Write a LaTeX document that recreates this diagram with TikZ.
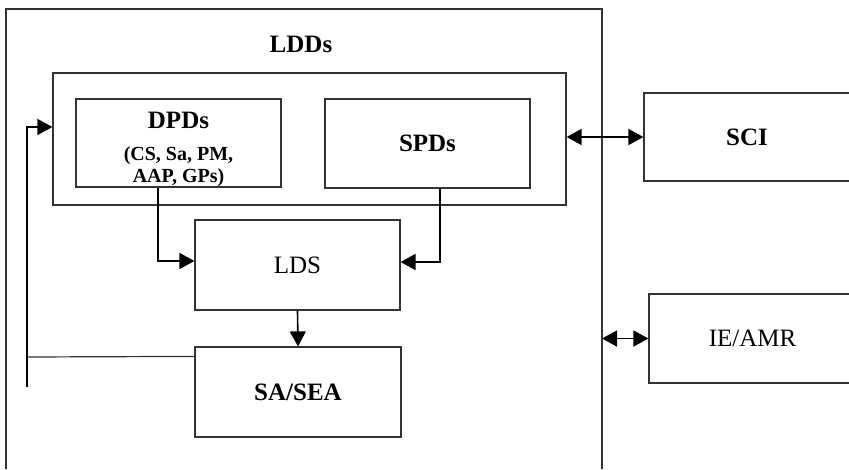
\documentclass[tikz,border=0pt]{standalone}
\usepackage{fontspec}
\setmainfont{Liberation Serif}
\usetikzlibrary{arrows.meta}

\begin{document}
\begin{tikzpicture}[
    x=1pt, y=-1pt,
    box/.style={draw=black!80, line width=1.2pt, inner sep=0pt},
    box label/.style={font=\fontsize{25}{30}\selectfont},
    bold label/.style={font=\fontsize{25}{30}\selectfont\bfseries},
    sub label/.style={font=\fontsize{20}{22}\selectfont\bfseries, align=center},
    flow/.style={line width=1.6pt, -{Triangle[length=15pt,width=16pt]}},
    both flow/.style={line width=1.6pt, {Triangle[length=15pt,width=16pt]}-{Triangle[length=15pt,width=16pt]}}
]
    \useasboundingbox (0,0) rectangle (849,469);

    % outer frame (open at the bottom)
    \coordinate (ldds nw) at (6,9);
    \coordinate (ldds ne) at (602,9);
    \draw[box] (6,469) -- (ldds nw) -- (ldds ne) -- (602,469);
    \node[bold label] (ldds) at (301,44) {LDDs};

    \node[box, minimum width=513, minimum height=132] (pd) at (309.5,139) {};
    \node[box, minimum width=205, minimum height=88] (dpds) at (178.5,143) {};
    \node[bold label] (dpds title) at (178.5,120) {DPDs};
    \node[sub label] (dpds list) at (178.5,167) {(CS, Sa, PM,\\AAP, GPs)};
    \node[box, minimum width=205, minimum height=89, bold label] (spds) at (427.5,143.5) {SPDs};

    \node[box, minimum width=205, minimum height=90, box label] (lds) at (297.5,265) {LDS};
    \node[box, minimum width=206, minimum height=90, bold label] (sasea) at (298,392) {SA/SEA};

    \node[box, minimum width=206, minimum height=88, bold label] (sci) at (747,137) {SCI};
    \node[box, minimum width=207, minimum height=89, box label] (ieamr) at (752.5,338.5) {IE/AMR};

    \draw[flow] ([xshift=-20.5pt]dpds.south) |- ([yshift=4pt]lds.west);
    \draw[flow] ([xshift=12.5pt]spds.south) |- ([yshift=3pt]lds.east);
    \draw[flow] (lds.south) -- (sasea.north);

    % feedback from SA/SEA
    \coordinate (fb stub) at (27,387);
    \coordinate (fb turn) at (27,127);
    \draw[line width=1.2pt, draw=black!80] ([yshift=-10pt]sasea.north west) -- (fb stub |- 0,357);
    \draw[flow] (fb stub) -- (fb turn) -- (pd.west |- fb turn);

    \draw[both flow] (pd.east |- sci.west) -- (sci.west);
    \draw[both flow] (ldds ne |- ieamr.west) -- (ieamr.west);
\end{tikzpicture}
\end{document}
